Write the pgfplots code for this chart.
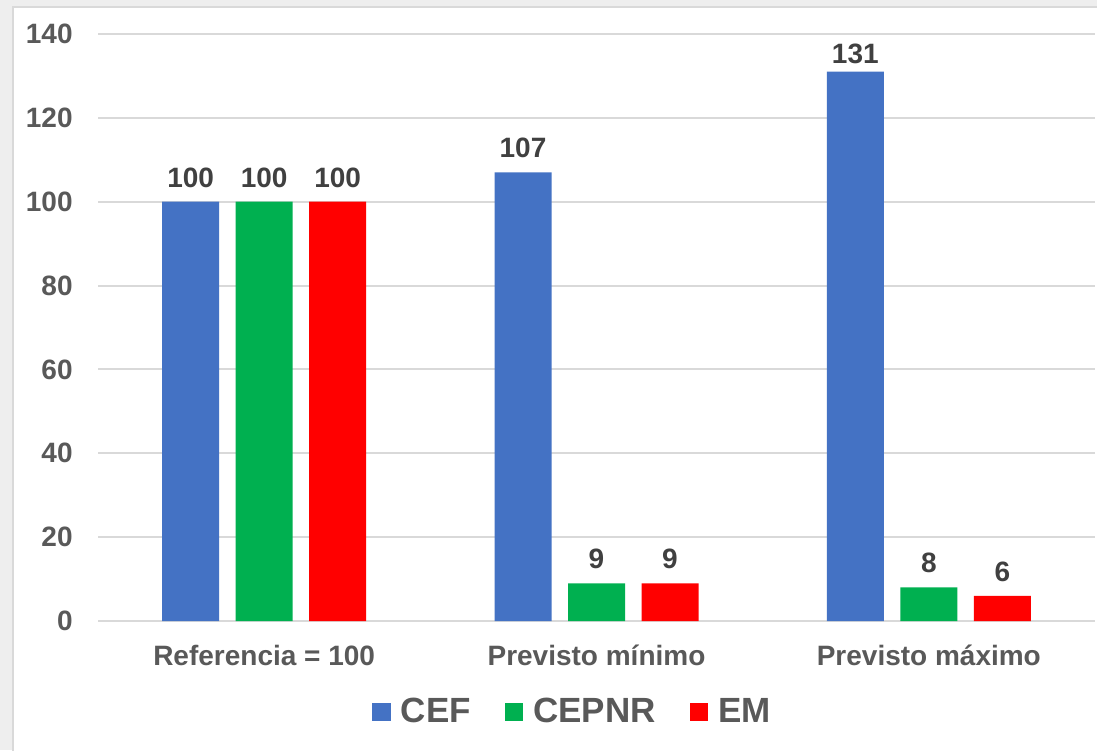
\documentclass[border=0pt]{standalone}
\usepackage{pgfplots}
\pgfplotsset{compat=1.18}
\usepackage{fontspec}
\setmainfont{Liberation Sans}
\definecolor{cBlue}{HTML}{4472C4}
\definecolor{cGreen}{HTML}{00B050}
\definecolor{cRed}{HTML}{FF0000}
\definecolor{txt}{HTML}{595959}
\definecolor{lbl}{HTML}{404040}
\definecolor{gridc}{HTML}{D9D9D9}
\definecolor{bg}{HTML}{EEEEEE}
\begin{document}
\begin{tikzpicture}
\path[use as bounding box, fill=bg] (0,0) rectangle (548.5pt,375pt);
\filldraw[fill=white, draw=gridc, line width=1pt] (6.5pt,-2pt) rectangle (551pt,371.5pt);
\begin{axis}[
  at={(49pt,64.5pt)}, anchor=south west,
  scale only axis, width=498.5pt, height=293.5pt,
  ybar, bar width=28.5pt,
  legend image code/.code={\fill[#1] (0pt,-4.6pt) rectangle (9.2pt,4.6pt);},
  xmin=-0.5, xmax=2.5, ymin=0, ymax=140,
  xtick=data, xticklabels={Referencia = 100, Previsto mínimo, Previsto máximo},
  ytick={0,20,...,140},
  axis line style={draw=none},
  major tick length=0pt,
  xmajorgrids=false, ymajorgrids, grid style={draw=gridc, line width=1pt},
  tick label style={font=\bfseries\fontsize{14}{16}\selectfont, text=txt},
  /pgf/number format/assume math mode=true,
  yticklabel style={anchor=east, inner sep=0pt, xshift=-12.5pt},
  xticklabel style={anchor=north, inner sep=0pt, yshift=-12pt},
  visualization depends on={y \as \rawy},
  nodes near coords,
  every node near coord/.append style={font=\bfseries\fontsize{14}{16}\selectfont, text=lbl, anchor=south, inner sep=0pt, yshift={ifthenelse(\rawy>130,4,7)}},
  legend columns=3,
  legend style={at={(0.477,-0.155)}, anchor=center, draw=none, fill=none,
    font=\bfseries\fontsize{17.5}{19}\selectfont, text=txt,
    /tikz/every odd column/.append style={column sep=3pt},
    /tikz/every even column/.append style={column sep=15pt}},
  legend cell align=left,
]
\addplot[fill=cBlue, draw=none, bar shift=-36.75pt] coordinates {(0,100) (1,107) (2,131)};
\addplot[fill=cGreen, draw=none, bar shift=0pt] coordinates {(0,100) (1,9) (2,8)};
\addplot[fill=cRed, draw=none, bar shift=36.75pt] coordinates {(0,100) (1,9) (2,6)};
\legend{CEF, CEPNR, EM}
\end{axis}
\end{tikzpicture}
\end{document}
